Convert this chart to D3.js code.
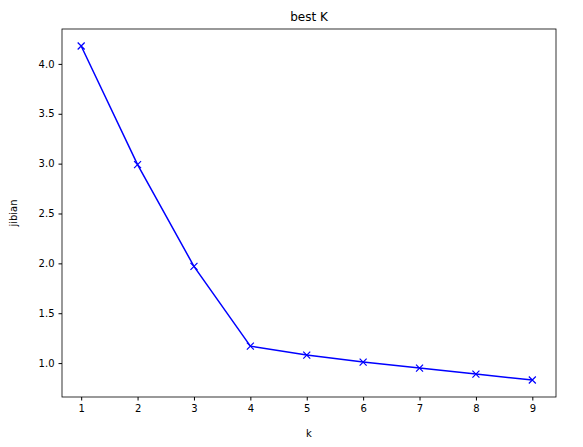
<!DOCTYPE html>
<html><head><meta charset="utf-8">
<script src="https://cdn.jsdelivr.net/npm/d3@7"></script>
<style>body{margin:0;background:#fff}text{font-family:"DejaVu Sans",sans-serif}</style>
</head><body><div id="main"></div>
<script>
const ks = [1, 2, 3, 4, 5, 6, 7, 8, 9];
const jibian = [4.18, 2.99, 1.97, 1.17, 1.08, 1.01, 0.95, 0.89, 0.83];
const yTicks = [1.0, 1.5, 2.0, 2.5, 3.0, 3.5, 4.0];

const width = 583, height = 447;
const margin = {top: 29, right: 27, bottom: 50, left: 62};
const innerWidth = width - margin.left - margin.right;
const innerHeight = height - margin.top - margin.bottom;

const xScale = d3.scaleLinear().domain([0.66, 9.42]).range([0, innerWidth]);
const yScale = d3.scaleLinear().domain([0.66, 4.35]).range([innerHeight, 0]);

const svg = d3.select("#main").append("svg").attr("width", width).attr("height", height);
const g = svg.append("g").attr("transform", `translate(${margin.left},${margin.top})`);

g.append("g").attr("transform", `translate(0,${innerHeight})`)
  .call(d3.axisBottom(xScale).tickValues(ks).tickSize(3.5).tickPadding(4))
  .call(a => a.select(".domain").remove())
  .selectAll("text").attr("font-size", 10).attr("fill", "#000");
g.append("g")
  .call(d3.axisLeft(yScale).tickValues(yTicks).tickFormat(d3.format(".1f")).tickSize(3.5).tickPadding(4))
  .call(a => a.select(".domain").remove())
  .selectAll("text").attr("font-size", 10).attr("fill", "#000");

g.append("rect").attr("width", innerWidth).attr("height", innerHeight)
  .attr("fill", "none").attr("stroke", "#000").attr("stroke-width", 0.8);

const pts = ks.map((k, i) => [k, jibian[i]]);
g.append("path").datum(pts)
  .attr("d", d3.line().x(d => xScale(d[0])).y(d => yScale(d[1])))
  .attr("fill", "none").attr("stroke", "blue").attr("stroke-width", 1.5);

g.selectAll(".mk").data(pts).enter().append("path")
  .attr("transform", d => `translate(${xScale(d[0])},${yScale(d[1])})`)
  .attr("d", "M-3.5,-3.5L3.5,3.5M-3.5,3.5L3.5,-3.5")
  .attr("stroke", "blue").attr("stroke-width", 1.2);

svg.append("text").attr("x", margin.left + innerWidth / 2).attr("y", margin.top - 8)
  .attr("text-anchor", "middle").attr("font-size", 12).text("best K");
svg.append("text").attr("x", margin.left + innerWidth / 2).attr("y", 437)
  .attr("text-anchor", "middle").attr("font-size", 10).text("k");
svg.append("text").attr("transform", `translate(17,${margin.top + innerHeight / 2}) rotate(-90)`)
  .attr("text-anchor", "middle").attr("font-size", 10).text("jibian");
</script></body></html>
